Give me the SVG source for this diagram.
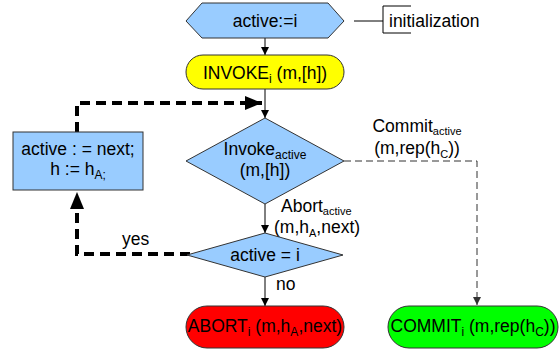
<svg xmlns="http://www.w3.org/2000/svg" width="560" height="352" viewBox="0 0 560 352">
<style>
text{font-family:"Liberation Sans",Arial,sans-serif;font-size:17.5px;fill:#000}
.sub{font-size:12px}
.lbl .sub{font-size:11px}
.node{stroke:#333;stroke-width:1}
.blue{fill:#99ccff}
.thin{fill:none;stroke:#000;stroke-width:1}
.thick{fill:none;stroke:#000;stroke-width:4;stroke-dasharray:10,6}
.dash{fill:none;stroke:#333;stroke-width:1;stroke-dasharray:7,4}
</style>
<defs>
<marker id="a" markerUnits="userSpaceOnUse" markerWidth="10" markerHeight="10" refX="8" refY="4" orient="auto" viewBox="0 0 10 8"><path d="M0,0 L8,4 L0,8 z" fill="#000"/></marker>
<marker id="b" markerUnits="userSpaceOnUse" markerWidth="18" markerHeight="14" refX="17" refY="7" orient="auto" viewBox="0 0 18 14"><path d="M0,0 L17,7 L0,14 z" fill="#000"/></marker>
<marker id="c" markerUnits="userSpaceOnUse" markerWidth="10" markerHeight="10" refX="8" refY="4" orient="auto" viewBox="0 0 10 8"><path d="M0,0 L8,4 L0,8 z" fill="#333"/></marker>
</defs>
<g id="connectors">
<path class="thin" d="M265,37 V55" marker-end="url(#a)"/>
<path class="thin" d="M265,89 V118" marker-end="url(#a)"/>
<path class="thick" d="M77,132 V103 H262" marker-end="url(#b)"/>
<path class="thick" d="M190,254 H77 V192" marker-end="url(#b)"/>
<path class="dash" d="M344,161 H477 V305" marker-end="url(#c)"/>
<path class="thin" d="M265,204 V233" marker-end="url(#a)"/>
<path class="thin" d="M265,277 V306" marker-end="url(#a)"/>
<path class="thin" d="M354,21 H383"/>
</g>
<g id="init">
<path class="thin" d="M411,6 H383 V33 H411"/>
<text x="389" y="27">initialization</text>
</g>
<g id="hex">
<polygon class="node blue" points="186,21 202,3 328,3 344,21 328,38 202,38"/>
<text x="265" y="27" text-anchor="middle">active:=i</text>
</g>
<g id="invoke">
<rect class="node" x="186" y="55" width="158" height="34" rx="17" fill="#ffff00"/>
<text x="265" y="79" text-anchor="middle">INVOKE<tspan class="sub" dy="4">i</tspan><tspan dy="-4"> (m,[h])</tspan></text>
</g>
<g id="update">
<rect class="node blue" x="13" y="132" width="130" height="58"/>
<text x="78" y="155" text-anchor="middle">active : = next;</text>
<text x="78" y="175" text-anchor="middle">h := h<tspan class="sub" dy="4">A;</tspan></text>
</g>
<g id="decide1">
<polygon class="node blue" points="186,161 265,118 344,161 265,204"/>
<text x="265" y="155" text-anchor="middle">Invoke<tspan class="sub" dy="4">active</tspan></text>
<text x="265" y="176" text-anchor="middle">(m,[h])</text>
</g>
<g id="labels" class="lbl">
<text x="417" y="132" text-anchor="middle">Commit<tspan class="sub" dy="3">active</tspan></text>
<text x="417" y="154" text-anchor="middle">(m,rep(h<tspan class="sub" dy="4">C</tspan><tspan dy="-4">))</tspan></text>
<text x="281" y="212">Abort<tspan class="sub" dy="3">active</tspan></text>
<text x="274" y="233">(m,h<tspan class="sub" dy="4">A</tspan><tspan dy="-4">,next)</tspan></text>
<text x="122" y="245">yes</text>
<text x="276" y="290">no</text>
</g>
<g id="decide2">
<polygon class="node blue" points="187,255 265,233 343,255 265,277"/>
<text x="265" y="261" text-anchor="middle">active = i</text>
</g>
<g id="abort">
<rect class="node" x="186" y="306" width="158" height="42" rx="21" fill="#ff0000"/>
<text x="265" y="332" text-anchor="middle">ABORT<tspan class="sub" dy="4">i</tspan><tspan dy="-4"> (m,h</tspan><tspan class="sub" dy="4">A</tspan><tspan dy="-4">,next)</tspan></text>
</g>
<g id="commit">
<rect class="node" x="388" y="306" width="170" height="42" rx="21" fill="#00ff00"/>
<text x="473" y="332" text-anchor="middle">COMMIT<tspan class="sub" dy="4">i</tspan><tspan dy="-4"> (m,rep(h</tspan><tspan class="sub" dy="4">C</tspan><tspan dy="-4">))</tspan></text>
</g>
</svg>
